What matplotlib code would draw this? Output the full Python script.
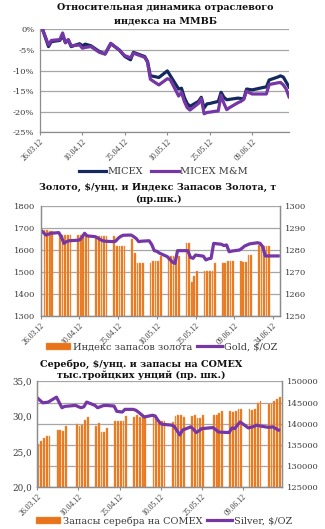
import matplotlib
matplotlib.use("Agg")
import matplotlib.pyplot as plt
import matplotlib.dates as mdates
from matplotlib.ticker import FixedLocator, FuncFormatter
import pandas as pd

# ---------------- DATA ----------------
# Chart 1: relative dynamics
idx_dates = ['2012-03-26','2012-03-27','2012-03-29','2012-03-30',
             '2012-04-02','2012-04-03','2012-04-04','2012-04-05','2012-04-06',
             '2012-04-09','2012-04-10','2012-04-11','2012-04-13',
             '2012-04-16','2012-04-18','2012-04-20',
             '2012-04-23','2012-04-24','2012-04-25','2012-04-27','2012-04-28',
             '2012-05-02','2012-05-03','2012-05-04','2012-05-05','2012-05-07',
             '2012-05-10','2012-05-11',
             '2012-05-14','2012-05-15','2012-05-16','2012-05-17','2012-05-18',
             '2012-05-21','2012-05-22','2012-05-23','2012-05-24','2012-05-25',
             '2012-05-28','2012-05-29','2012-05-30','2012-05-31','2012-06-01',
             '2012-06-04','2012-06-05','2012-06-06','2012-06-07','2012-06-08','2012-06-09',
             '2012-06-13','2012-06-14','2012-06-15',
             '2012-06-18','2012-06-19','2012-06-20','2012-06-21','2012-06-22']
micex = [0.0, -0.2, -4.2, -3.0,
         -2.7, -1.6, -3.2, -2.6, -4.2,
         -3.5, -4.0, -3.6, -4.0,
         -5.4, -6.0, -3.5,
         -5.0, -5.8, -6.6, -7.4, -5.6,
         -6.6, -7.8, -11.3, -11.4, -11.7,
         -10.1, -11.2,
         -14.5, -14.3, -16.5, -18.0, -18.7,
         -17.5, -16.5, -19.1, -18.1, -18.0,
         -17.5, -15.3, -16.5, -17.1, -17.0,
         -16.7, -16.8, -16.9, -14.5, -14.6, -14.7,
         -14.1, -14.0, -12.3,
         -11.6, -11.3, -11.6, -12.8, -14.0]
micex_mm = [0.0, -0.2, -3.8, -2.7,
            -2.5, -0.9, -3.3, -2.5, -4.0,
            -3.8, -4.6, -4.4, -4.2,
            -5.6, -6.0, -3.4,
            -5.0, -5.8, -6.4, -6.9, -5.8,
            -6.8, -8.0, -12.1, -12.6, -13.5,
            -12.0, -12.2,
            -16.2, -15.3, -17.5, -19.0, -19.6,
            -18.0, -16.8, -20.5, -20.2, -20.1,
            -19.8, -16.0, -18.0, -19.5, -19.0,
            -17.8, -17.5, -17.0, -15.0, -15.4, -15.7,
            -15.7, -15.7, -13.4,
            -13.0, -12.9, -13.5, -14.5, -16.4]
idx_ticks = ['2012-03-26','2012-04-10','2012-04-25','2012-05-10','2012-05-25','2012-06-09']

# Chart 2: gold
gold_dates = ['2012-03-26','2012-03-27','2012-03-28','2012-03-29','2012-03-30',
              '2012-04-02','2012-04-03','2012-04-04','2012-04-05','2012-04-06',
              '2012-04-09','2012-04-10','2012-04-11','2012-04-12','2012-04-13',
              '2012-04-16','2012-04-17','2012-04-18','2012-04-19','2012-04-20',
              '2012-04-23','2012-04-24','2012-04-25','2012-04-26','2012-04-27',
              '2012-04-30','2012-05-01','2012-05-02','2012-05-03','2012-05-04',
              '2012-05-07','2012-05-08','2012-05-09','2012-05-10','2012-05-11',
              '2012-05-14','2012-05-15','2012-05-16','2012-05-17','2012-05-18',
              '2012-05-21','2012-05-22','2012-05-23','2012-05-24','2012-05-25',
              '2012-05-28','2012-05-29','2012-05-30','2012-05-31','2012-06-01',
              '2012-06-04','2012-06-05','2012-06-06','2012-06-07','2012-06-08',
              '2012-06-11','2012-06-12','2012-06-13','2012-06-14','2012-06-15',
              '2012-06-18','2012-06-19','2012-06-20','2012-06-21','2012-06-22',
              '2012-06-25','2012-06-26']
gold_price = [1691, 1680, 1668, 1672, 1676,
              1679, 1660, 1630, 1638, 1642,
              1644, 1645, 1658, 1676, 1664,
              1661, 1655, 1648, 1642, 1640,
              1638, 1640, 1653, 1662, 1667,
              1668, 1661, 1652, 1638, 1640,
              1642, 1625, 1597, 1594, 1586,
              1570, 1558, 1545, 1539, 1597,
              1597, 1597, 1567, 1562, 1577,
              1572, 1555, 1560, 1562, 1630,
              1626, 1620, 1623, 1592, 1595,
              1600, 1608, 1618, 1623, 1628,
              1633, 1630, 1615, 1573, 1573,
              1573, 1573]
gidx_dates = ['2012-03-27','2012-03-28','2012-03-29','2012-03-30',
              '2012-04-02','2012-04-03','2012-04-04','2012-04-05','2012-04-06',
              '2012-04-09','2012-04-10','2012-04-11','2012-04-12','2012-04-13',
              '2012-04-16','2012-04-17','2012-04-18','2012-04-19','2012-04-20',
              '2012-04-23','2012-04-24','2012-04-25','2012-04-26','2012-04-27',
              '2012-04-30','2012-05-01','2012-05-02','2012-05-03','2012-05-04',
              '2012-05-07','2012-05-08','2012-05-09','2012-05-10','2012-05-11',
              '2012-05-14','2012-05-15','2012-05-16','2012-05-17','2012-05-18',
              '2012-05-21','2012-05-22','2012-05-23','2012-05-24','2012-05-25',
              '2012-05-28','2012-05-29','2012-05-30','2012-05-31','2012-06-01',
              '2012-06-04','2012-06-05','2012-06-06','2012-06-07','2012-06-08',
              '2012-06-11','2012-06-12','2012-06-13','2012-06-14','2012-06-15',
              '2012-06-18','2012-06-19','2012-06-20','2012-06-21','2012-06-22']
gold_index = [1289.1, 1289.1, 1288.5, 1288.5,
              1286.8, 1286.8, 1286.8, 1286.8, 1286.8,
              1286.7, 1286.7, 1286.7, 1286.7, 1286.7,
              1286.4, 1286.4, 1286.4, 1286.4, 1286.4,
              1286.4, 1282.0, 1282.0, 1282.0, 1282.0,
              1284.8, 1278.5, 1274.2, 1274.2, 1274.2,
              1274.2, 1275.2, 1275.2, 1275.2, 1277.3,
              1277.3, 1277.3, 1277.2, 1276.8, 1277.5,
              1283.0, 1283.0, 1265.3, 1268.2, 1270.6,
              1270.6, 1270.6, 1270.6, 1270.6, 1274.2,
              1274.0, 1274.0, 1274.8, 1275.0, 1275.0,
              1275.0, 1274.7, 1274.5, 1277.8, 1277.8,
              1282.5, 1282.0, 1282.0, 1282.0, 1282.0]
gold_ticks = ['2012-03-26','2012-04-10','2012-04-25','2012-05-10','2012-05-25','2012-06-09','2012-06-24']

# Chart 3: silver
silver_dates = ['2012-03-26','2012-03-27','2012-03-28','2012-03-29','2012-03-30',
                '2012-04-02','2012-04-03','2012-04-04','2012-04-05',
                '2012-04-09','2012-04-10','2012-04-11','2012-04-12','2012-04-13',
                '2012-04-16','2012-04-17','2012-04-18','2012-04-19','2012-04-20',
                '2012-04-23','2012-04-24','2012-04-25','2012-04-26','2012-04-27',
                '2012-04-30','2012-05-01','2012-05-02','2012-05-03','2012-05-04',
                '2012-05-07','2012-05-08','2012-05-09','2012-05-10','2012-05-11',
                '2012-05-14','2012-05-15','2012-05-16','2012-05-17','2012-05-18',
                '2012-05-21','2012-05-22','2012-05-23','2012-05-24','2012-05-25',
                '2012-05-29','2012-05-30','2012-05-31','2012-06-01',
                '2012-06-04','2012-06-05','2012-06-06','2012-06-07','2012-06-08',
                '2012-06-11','2012-06-12','2012-06-13','2012-06-14','2012-06-15',
                '2012-06-18','2012-06-19','2012-06-20','2012-06-21','2012-06-22']
silver_price = [32.66, 32.30, 31.96, 32.00, 32.06,
                32.76, 32.00, 31.26, 31.45,
                31.59, 31.40, 31.26, 31.40, 32.06,
                31.60, 31.26, 31.40, 31.55, 31.59,
                31.50, 30.75, 30.70, 30.65, 31.03,
                31.03, 30.89, 30.60, 30.28, 29.95,
                30.19, 30.10, 29.50, 29.00, 28.90,
                28.80, 28.60, 28.00, 27.40, 28.10,
                28.55, 28.20, 27.75, 28.00, 28.30,
                28.45, 28.20, 27.85, 27.80,
                27.75, 28.40, 28.30, 28.80, 29.25,
                28.40, 28.50, 28.60, 28.80, 28.70,
                28.50, 28.50, 28.55, 28.30, 28.10]
silver_stock = [135300, 135850, 136630, 137030, 137030,
                138600, 138440, 138290, 139390,
                139940, 139540, 139780, 140800, 141510,
                139540, 140170, 138050, 138050, 139000,
                140720, 140720, 140720, 140720, 141750,
                141510, 142140, 141510, 141980, 141510,
                141500, 141300, 140700, 140700, 140700,
                140400, 141750, 141980, 142140, 141510,
                141750, 141980, 141350, 141350, 141980,
                141980, 141980, 142530, 143080,
                142920, 142700, 143000, 143470, 143470,
                143470, 143320, 143470, 144890, 145280,
                144650, 144650, 145280, 145830, 146300]
silver_ticks = ['2012-03-26','2012-04-10','2012-04-25','2012-05-10','2012-05-25','2012-06-09']

# ---------------- STYLE ----------------
NAVY = '#14295E'
PURPLE = '#7536A6'
ORANGE = '#E8731A'
GRID = '#A6A6A6'
SPINE = '#8C8C8C'
TXT = '#3A3A3A'
SERIF = ['DejaVu Serif']
DATE_FONT = 'Liberation Serif'

plt.rcParams['font.family'] = SERIF

W, H = 325, 529
fig = plt.figure(figsize=(W / 100, H / 100), dpi=100)


def ax_rect(l, r, t, b):
    return [l / W, 1 - b / H, (r - l) / W, (b - t) / H]


def style_date_axis(ax, ticks, xmin, xmax):
    ax.set_xlim(pd.Timestamp(xmin), pd.Timestamp(xmax))
    ax.xaxis.set_major_locator(FixedLocator(mdates.date2num(pd.to_datetime(ticks))))
    ax.xaxis.set_major_formatter(mdates.DateFormatter('%d.%m.%y'))
    ax.tick_params(axis='x', labelsize=5.6, colors=TXT, length=2.5, width=0.8,
                   color=SPINE, pad=1.5)
    for lab in ax.get_xticklabels():
        lab.set_rotation(45)
        lab.set_ha('right')
        lab.set_rotation_mode('anchor')
        lab.set_family(DATE_FONT)


def title(lines, xc, ys):
    for txt, y in zip(lines, ys):
        fig.text(xc / W, 1 - y / H, txt, ha='center', va='center',
                 fontsize=6.9, fontweight='bold', color='#111111')


# ---------------- CHART 1 ----------------
ax1 = fig.add_axes(ax_rect(40, 289, 29.3, 132.3))
d1 = pd.to_datetime(idx_dates)
ax1.plot(d1, micex, color=NAVY, lw=2.3, label='MICEX', solid_joinstyle='round')
ax1.plot(d1, micex_mm, color=PURPLE, lw=2.3, label='MICEX M&M', solid_joinstyle='round')
ax1.set_ylim(-25, 0)
ax1.set_yticks([0, -5, -10, -15, -20, -25])
ax1.yaxis.set_major_formatter(FuncFormatter(lambda v, p: f'{v:.0f}%'))
ax1.grid(axis='y', color=GRID, lw=0.9)
ax1.set_axisbelow(True)
style_date_axis(ax1, idx_ticks, '2012-03-26', '2012-06-22')
ax1.tick_params(axis='y', labelsize=6, colors=TXT, length=0, pad=4)
for s in ['top', 'right']:
    ax1.spines[s].set_visible(False)
for s in ['left', 'bottom']:
    ax1.spines[s].set_color(SPINE)
    ax1.spines[s].set_linewidth(0.9)
title(['Относительная динамика отраслевого', 'индекса на ММВБ'], 165, [8, 21])
h1, l1 = ax1.get_legend_handles_labels()
fig.legend(h1, l1, loc='center', bbox_to_anchor=(163.5 / W, 1 - 172 / H), ncol=2,
           frameon=False, fontsize=7, handlelength=2.8, handletextpad=0.15,
           columnspacing=0.8, labelcolor=TXT)

# ---------------- CHART 2 ----------------
ax2 = fig.add_axes(ax_rect(40.7, 279.7, 206, 316))
ax2r = ax2.twinx()
gd = pd.to_datetime(gidx_dates) + pd.Timedelta(hours=12)
ax2r.bar(gd, gold_index, width=0.66, bottom=0, color=ORANGE, edgecolor='#F29A52',
         linewidth=0.3, label='Индекс запасов золота')
ax2r.set_ylim(1250, 1300)
ax2r.set_yticks([1250, 1260, 1270, 1280, 1290, 1300])
ax2r.grid(axis='y', color=GRID, lw=0.9)
ax2r.set_axisbelow(True)
ax2.plot(pd.to_datetime(gold_dates), gold_price, color=PURPLE, lw=2.3,
         label='Gold, $/OZ', solid_joinstyle='round')
ax2.set_ylim(1300, 1800)
ax2.set_yticks([1300, 1400, 1500, 1600, 1700, 1800])
ax2.set_zorder(ax2r.get_zorder() + 1)
ax2.patch.set_visible(False)
style_date_axis(ax2, gold_ticks, '2012-03-26', '2012-06-26 14:00')
ax2.tick_params(axis='y', labelsize=6, colors=TXT, length=0, pad=4)
ax2r.tick_params(axis='y', labelsize=6, colors=TXT, length=0, pad=4)
for a in (ax2, ax2r):
    a.spines['top'].set_visible(False)
    for s in ['left', 'bottom', 'right']:
        a.spines[s].set_color(SPINE)
        a.spines[s].set_linewidth(0.9)
title(['Золото, $/унц. и Индекс Запасов Золота, т', '(пр.шк.)'], 158, [187, 199])
hb, lb = ax2r.get_legend_handles_labels()
hl, ll = ax2.get_legend_handles_labels()
fig.legend(hb + hl, lb + ll, loc='center', bbox_to_anchor=(161.5 / W, 1 - 347 / H), ncol=2,
           frameon=False, fontsize=7, handlelength=2.6, handleheight=0.7,
           handletextpad=0.15, columnspacing=0.5, labelcolor=TXT)

# ---------------- CHART 3 ----------------
ax3 = fig.add_axes(ax_rect(37.3, 281.7, 381.3, 487.3))
ax3r = ax3.twinx()
sd = pd.to_datetime(silver_dates) + pd.Timedelta(hours=10)
ax3r.bar(sd, silver_stock, width=0.66, color=ORANGE, edgecolor='#F29A52',
         linewidth=0.3, label='Запасы серебра на COMEX')
ax3r.set_ylim(125000, 150000)
ax3r.set_yticks([125000, 130000, 135000, 140000, 145000, 150000])
ax3r.grid(axis='y', color=GRID, lw=0.9)
ax3r.set_axisbelow(True)
ax3.plot(pd.to_datetime(silver_dates), silver_price, color=PURPLE, lw=2.3,
         label='Silver, $/OZ', solid_joinstyle='round')
ax3.set_ylim(20, 35)
ax3.set_yticks([20, 25, 30, 35])
ax3.yaxis.set_major_formatter(FuncFormatter(lambda v, p: f'{v:.1f}'.replace('.', ',')))
ax3.set_zorder(ax3r.get_zorder() + 1)
ax3.patch.set_visible(False)
style_date_axis(ax3, silver_ticks, '2012-03-26', '2012-06-23 04:00')
ax3.tick_params(axis='y', labelsize=6.3, colors=TXT, length=0, pad=4)
ax3r.tick_params(axis='y', labelsize=6, colors=TXT, length=0, pad=4)
for a in (ax3, ax3r):
    a.spines['top'].set_visible(False)
    for s in ['left', 'bottom', 'right']:
        a.spines[s].set_color(SPINE)
        a.spines[s].set_linewidth(0.9)
title(['Серебро, $/унц. и запасы на COMEX', 'тыс.тройцких унций (пр. шк.)'], 141, [364, 375])
hb, lb = ax3r.get_legend_handles_labels()
hl, ll = ax3.get_legend_handles_labels()
fig.legend(hb + hl, lb + ll, loc='center', bbox_to_anchor=(164 / W, 1 - 521 / H), ncol=2,
           frameon=False, fontsize=7, handlelength=2.6, handleheight=0.7,
           handletextpad=0.15, columnspacing=0.5, labelcolor=TXT)

fig.savefig('out.png', dpi=100)
